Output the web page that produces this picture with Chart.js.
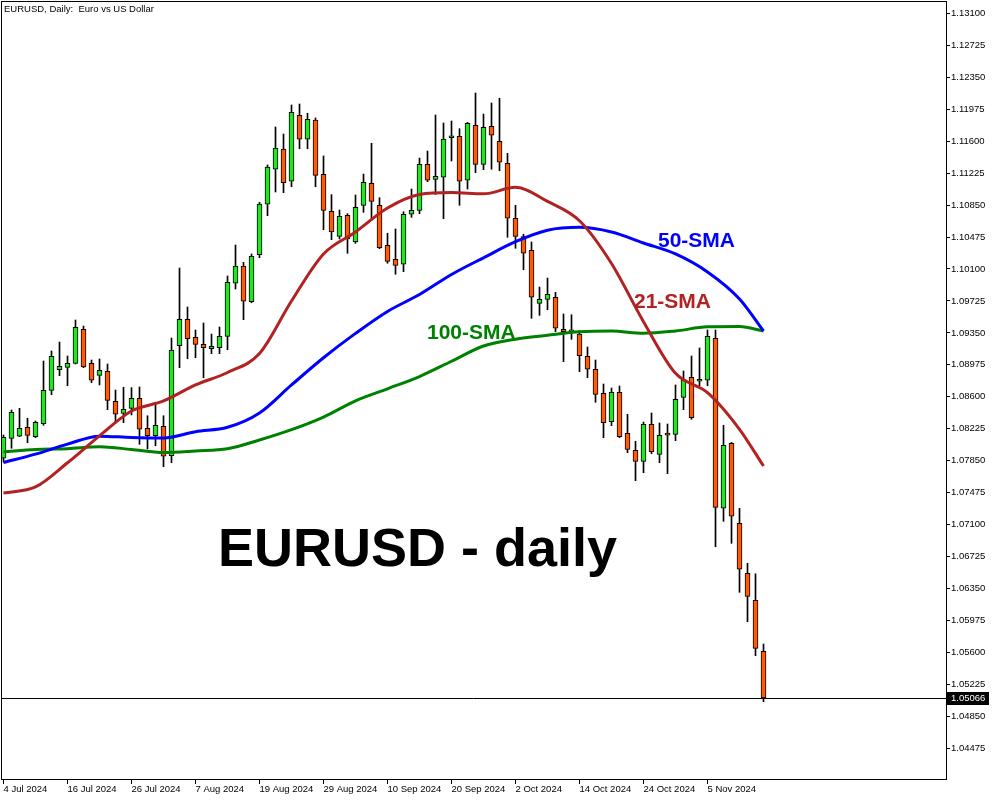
<!DOCTYPE html>
<html>
<head>
<meta charset="utf-8">
<script src="https://cdn.jsdelivr.net/npm/chart.js@4.4.1/dist/chart.umd.min.js"></script>
<style>
html,body{margin:0;padding:0;background:#fff;}
#wrap{width:1000px;height:800px;}
</style>
</head>
<body>
<div id="wrap"><canvas id="c" width="1000" height="800"></canvas></div>
<script>
// ---- Data (EURUSD daily, 4 Jul 2024 .. 14 Nov 2024) ----
const opens = [1.07879,1.08113,1.08137,1.08242,1.08132,1.08284,1.08676,1.08918,1.08946,1.08993,
1.09392,1.08993,1.08852,1.08899,1.08547,1.08406,1.08465,1.08582,1.08230,1.08144,
1.08254,1.07909,1.09200,1.09509,1.09298,1.09216,1.09165,1.09176,1.09310,1.09932,
1.10135,1.09716,1.10268,1.10859,1.11270,1.11508,1.11129,1.11903,1.11622,1.11848,
1.11211,1.10777,1.10483,1.10730,1.10417,1.10847,1.11105,1.10847,1.10378,1.10214,
1.10155,1.10742,1.10788,1.11328,1.11152,1.11176,1.11640,1.11657,1.11141,1.11786,
1.11328,1.11774,1.11598,1.11340,1.10695,1.10479,1.10319,1.09697,1.09744,1.09768,
1.09392,1.09362,1.09337,1.09075,1.08923,1.08641,1.08308,1.08653,1.08172,1.07972,
1.07843,1.08277,1.07925,1.08152,1.08160,1.08594,1.08829,1.08782,1.08794,1.09287,
1.07292,1.08054,1.07116,1.06529,1.06212,1.05614];
const highs = [1.08152,1.08445,1.08465,1.08348,1.08316,1.09020,1.09138,1.09243,1.09079,1.09501,
1.09431,1.09032,1.09044,1.08985,1.08680,1.08712,1.08707,1.08715,1.08378,1.08516,
1.08378,1.09290,1.10111,1.09654,1.09384,1.09466,1.09337,1.09419,1.10018,1.10381,
1.10178,1.10276,1.10882,1.11320,1.11766,1.11684,1.12024,1.12036,1.11927,1.11872,
1.11426,1.10972,1.10792,1.10749,1.10968,1.11214,1.11575,1.10936,1.10519,1.10569,
1.10772,1.11038,1.11402,1.11484,1.11907,1.11813,1.11836,1.11746,1.11821,1.12165,
1.11918,1.12048,1.12103,1.11457,1.10847,1.10507,1.10417,1.09888,1.09994,1.09826,
1.09572,1.09563,1.09376,1.09184,1.09032,1.08750,1.08703,1.08727,1.08395,1.08078,
1.08304,1.08410,1.08293,1.08281,1.08739,1.08903,1.09079,1.09173,1.09384,1.09384,
1.08266,1.08066,1.07292,1.06646,1.06523,1.05699];
const lows = [1.07835,1.07996,1.08132,1.08062,1.08120,1.08266,1.08625,1.08848,1.08730,1.08985,
1.08942,1.08766,1.08739,1.08449,1.08289,1.08296,1.08387,1.08043,1.07988,1.08026,
1.07780,1.07827,1.08942,1.09047,1.09059,1.08824,1.09106,1.09106,1.09153,1.09865,
1.09505,1.09704,1.10232,1.10725,1.11003,1.10995,1.11065,1.11511,1.11511,1.11065,
1.10561,1.10444,1.10452,1.10284,1.10401,1.10765,1.10671,1.10338,1.10167,1.10038,
1.10068,1.10706,1.10749,1.11124,1.10976,1.10690,1.11367,1.10847,1.11038,1.11230,
1.11265,1.11270,1.11253,1.10472,1.10343,1.10091,1.09521,1.09556,1.09622,1.09364,
1.09012,1.09275,1.08895,1.08824,1.08536,1.08120,1.08261,1.08120,1.07944,1.07616,
1.07709,1.07932,1.07827,1.07698,1.08085,1.08449,1.08336,1.08730,1.08730,1.06841,
1.07139,1.06881,1.06306,1.05961,1.05562,1.05022];
const closes = [1.08125,1.08418,1.08230,1.08148,1.08301,1.08676,1.09075,1.08958,1.08993,1.09416,
1.08950,1.08794,1.08911,1.08559,1.08395,1.08453,1.08582,1.08219,1.08144,1.08266,
1.07902,1.09149,1.09509,1.09282,1.09216,1.09176,1.09193,1.09310,1.09944,1.10135,
1.09721,1.10249,1.10862,1.11297,1.11520,1.11112,1.11938,1.11622,1.11856,1.11199,
1.10788,1.10534,1.10718,1.10452,1.10824,1.11117,1.10894,1.10350,1.10190,1.10143,
1.10742,1.10788,1.11328,1.11141,1.11187,1.11625,1.11641,1.11129,1.11809,1.11328,
1.11762,1.11669,1.11352,1.10695,1.10483,1.10284,1.09768,1.09744,1.09803,1.09404,
1.09364,1.09366,1.09082,1.08923,1.08629,1.08296,1.08653,1.08132,1.07982,1.07843,
1.08277,1.07956,1.08148,1.08150,1.08571,1.08797,1.08355,1.08782,1.09310,1.07303,
1.08031,1.07198,1.06576,1.06259,1.05649,1.05066];

// Moving averages (bar index -> value)
const maBars = [0,4,8,12,16,20,24,28,32,36,40,44,48,52,56,60,64,68,72,76,80,84,88,92,95];
const sma21 = [1.07471,1.07542,1.07826,1.08142,1.08433,1.08551,1.08739,1.08885,1.09108,1.09724,
1.10276,1.10534,1.10815,1.10974,1.10997,1.10982,1.11058,1.10893,1.10666,1.10165,
1.09482,1.08876,1.08649,1.08219,1.07788];
const sma50 = [1.07829,1.07927,1.08045,1.08138,1.08123,1.08117,1.08191,1.08242,1.08410,1.08739,
1.09058,1.09344,1.09602,1.09800,1.10035,1.10231,1.10420,1.10555,1.10589,1.10534,
1.10405,1.10276,1.10065,1.09748,1.09372];
const sma100 = [1.07956,1.07981,1.07991,1.08015,1.07982,1.07946,1.07964,1.07990,1.08093,1.08214,
1.08362,1.08553,1.08694,1.08838,1.09017,1.09196,1.09276,1.09322,1.09363,1.09372,
1.09345,1.09372,1.09421,1.09424,1.09372];

const tickBars = [0,8,16,24,32,40,48,56,64,72,80,88];
const tickLabels = ['4 Jul 2024','16 Jul 2024','26 Jul 2024','7 Aug 2024','19 Aug 2024','29 Aug 2024',
'10 Sep 2024','20 Sep 2024','2 Oct 2024','14 Oct 2024','24 Oct 2024','5 Nov 2024'];
const yTicks = [1.04475,1.04850,1.05225,1.05600,1.05975,1.06350,1.06725,1.07100,1.07475,1.07850,
1.08225,1.08600,1.08975,1.09350,1.09725,1.10100,1.10475,1.10850,1.11225,1.11600,
1.11975,1.12350,1.12725,1.13100];

// ---- build datasets ----
const BULL = '#22e622', BEAR = '#ff5a0a';
const idx = opens.map((_, i) => i);
const wickData = idx.map(i => ({x: i, y: [lows[i], highs[i]]}));
const bodyData = idx.map(i => ({x: i, y: [opens[i], closes[i]]}));
const bodyColors = idx.map(i => closes[i] >= opens[i] ? BULL : BEAR);
const maPts = arr => maBars.map((b, k) => ({x: b, y: arr[k]}));
const lastPrice = closes[closes.length - 1];

Chart.defaults.font.family = '"Liberation Sans", Arial, sans-serif';
Chart.defaults.color = '#000';

const overlay = {
  id: 'overlay',
  beforeDatasetsDraw(chart) {
    const {ctx, chartArea: a, scales: {y}} = chart;
    const py = Math.round(y.getPixelForValue(lastPrice)) + 0.5;
    ctx.save();
    ctx.strokeStyle = '#000'; ctx.lineWidth = 1;
    ctx.beginPath(); ctx.moveTo(a.left, py); ctx.lineTo(a.right, py); ctx.stroke();
    ctx.restore();
  },
  afterDraw(chart) {
    const {ctx, chartArea: a, scales: {y}} = chart;
    ctx.save();
    // frame
    ctx.strokeStyle = '#000'; ctx.lineWidth = 1;
    ctx.strokeRect(a.left + 0.5, a.top + 0.5, a.right - a.left, a.bottom - a.top);
    // title
    ctx.fillStyle = '#000';
    ctx.font = '9.5px "Liberation Sans", Arial, sans-serif';
    ctx.textBaseline = 'middle'; ctx.textAlign = 'left';
    ctx.fillText('EURUSD, Daily:  Euro vs US Dollar', 4, 9);
    // price box
    const py = Math.round(y.getPixelForValue(lastPrice));
    ctx.fillStyle = '#000';
    ctx.fillRect(a.right + 1, py - 6, 42, 13);
    ctx.fillStyle = '#fff';
    ctx.fillText(lastPrice.toFixed(5), a.right + 5, py + 0.5);
    // annotations
    ctx.textBaseline = 'alphabetic';
    ctx.font = 'bold 21px "Liberation Sans", Arial, sans-serif';
    ctx.fillStyle = '#0000ff'; ctx.fillText('50-SMA', 658, 247);
    ctx.fillStyle = '#b22222'; ctx.fillText('21-SMA', 634, 308);
    ctx.fillStyle = '#008000'; ctx.fillText('100-SMA', 427, 339);
    ctx.fillStyle = '#000';
    ctx.font = 'bold 54px "Liberation Sans", Arial, sans-serif';
    ctx.fillText('EURUSD - daily', 218, 566);
    ctx.restore();
  }
};

new Chart(document.getElementById('c'), {
  type: 'bar',
  data: {
    datasets: [
      {type: 'line', data: maPts(sma21), borderColor: '#b22222', borderWidth: 3, pointRadius: 0,
       cubicInterpolationMode: 'monotone', order: 0},
      {type: 'line', data: maPts(sma50), borderColor: '#0000ff', borderWidth: 3, pointRadius: 0,
       cubicInterpolationMode: 'monotone', order: 0},
      {type: 'line', data: maPts(sma100), borderColor: '#008000', borderWidth: 3, pointRadius: 0,
       cubicInterpolationMode: 'monotone', order: 0},
      {type: 'bar', data: bodyData, backgroundColor: bodyColors, borderColor: '#000', borderWidth: 1,
       borderSkipped: false, barThickness: 5, grouped: false, minBarLength: 2, order: 1},
      {type: 'bar', data: wickData, backgroundColor: '#000', borderWidth: 0,
       barThickness: 1, grouped: false, order: 2}
    ]
  },
  options: {
    responsive: false,
    animation: false,
    devicePixelRatio: 1,
    layout: {padding: {left: 1, top: 1, right: 0, bottom: 0}},
    plugins: {legend: {display: false}, tooltip: {enabled: false}},
    scales: {
      x: {
        type: 'linear', min: -0.3125, max: 117.8125, offset: false, bounds: 'data',
        grid: {display: true, drawOnChartArea: false, drawTicks: true, tickLength: 5, color: '#000', offset: false},
        border: {display: false},
        afterBuildTicks: s => { s.ticks = tickBars.map(v => ({value: v})); },
        ticks: {autoSkip: false, maxRotation: 0, align: 'start', padding: 0, color: '#000',
                font: {size: 9.5}, callback: (v, i) => tickLabels[i]},
        afterFit: s => { s.height = 21; s.paddingLeft = 0; s.paddingRight = 0; }
      },
      y: {
        type: 'linear', position: 'right', min: 1.041153, max: 1.132444, bounds: 'data',
        grid: {drawOnChartArea: false, drawTicks: true, tickLength: 4, color: '#000'},
        border: {display: false},
        afterBuildTicks: s => { s.ticks = yTicks.map(v => ({value: v})); },
        ticks: {autoSkip: false, padding: 1, color: '#000', font: {size: 9.5},
                callback: v => Number(v).toFixed(5)},
        afterFit: s => { s.width = 54; s.paddingTop = 0; s.paddingBottom = 0; }
      }
    }
  },
  plugins: [overlay]
});
</script>
</body>
</html>
